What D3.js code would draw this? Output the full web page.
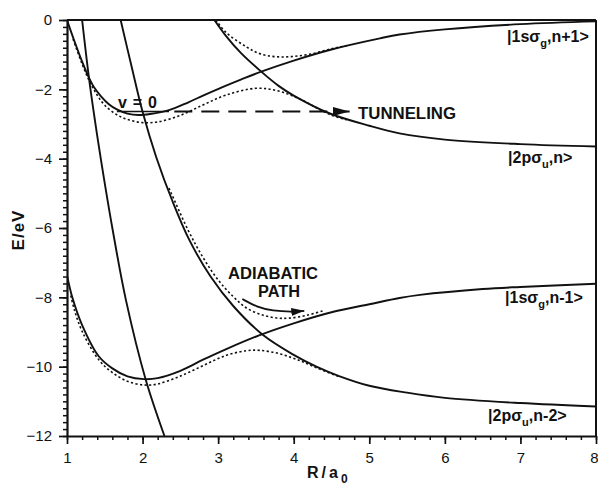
<!DOCTYPE html>
<html><head><meta charset="utf-8">
<script src="https://cdn.jsdelivr.net/npm/d3@7"></script>
<style>
body{margin:0;background:#fff}
svg{display:block}
text{font-family:"Liberation Sans",Arial,sans-serif;fill:#111}
</style>
</head><body>
<svg id="c" width="598" height="485"></svg>
<script>
// ---- data (R in a0, E in eV) ----
const xTicks = [1, 2, 3, 4, 5, 6, 7, 8];
const yTicks = [0, -2, -4, -6, -8, -10, -12];

// |1sσg, n+1>  (diabatic, solid)
const sgUpper = [[1.0,0.0],[1.1,-0.62],[1.2,-1.2],[1.29,-1.66],[1.36,-1.95],[1.45,-2.2],[1.55,-2.42],[1.66,-2.58],[1.8,-2.7],[1.95,-2.74],[2.1,-2.71],[2.35,-2.6],[2.6,-2.38],[2.8,-2.18],[3.02,-1.97],[3.3,-1.72],[3.57,-1.49],[4.0,-1.17],[4.5,-0.85],[5.14,-0.53],[5.4,-0.42],[6.0,-0.27],[7.0,-0.12],[8.0,-0.04]];
// |2pσu, n>
const suUpper = [[2.95,0.0],[3.1,-0.45],[3.3,-0.95],[3.57,-1.49],[3.8,-1.9],[4.0,-2.18],[4.47,-2.69],[5.0,-3.05],[5.4,-3.27],[6.0,-3.45],[7.0,-3.58],[8.0,-3.65]];
// |1sσg, n-1>
const sgLower = [[1.0,-7.36],[1.07,-8.0],[1.2,-8.8],[1.42,-9.7],[1.6,-10.05],[1.8,-10.28],[2.02,-10.36],[2.2,-10.33],[2.5,-10.12],[2.8,-9.8],[3.1,-9.5],[3.55,-9.09],[4.0,-8.75],[4.5,-8.43],[5.0,-8.2],[5.4,-8.02],[5.67,-7.93],[6.5,-7.76],[7.0,-7.7],[8.0,-7.61]];
// |2pσu, n-2>
const suLower = [[1.71,0.0],[1.85,-1.3],[2.0,-2.65],[2.18,-3.95],[2.4,-5.25],[2.62,-6.35],[2.9,-7.4],[3.2,-8.25],[3.59,-9.08],[4.0,-9.66],[4.3,-10.0],[4.6,-10.27],[5.0,-10.55],[5.5,-10.75],[6.0,-10.9],[7.0,-11.05],[8.0,-11.15]];
// steep repulsive curve (unlabelled)
const steep = [[1.2,0.0],[1.29,-1.66],[1.37,-2.9],[1.45,-4.04],[1.6,-6.0],[1.78,-8.08],[2.04,-10.36],[2.29,-12.0]];

// adiabatic curves (dotted)
const adUpperLow = [[1.08,-0.55],[1.2,-1.27],[1.3,-1.78],[1.4,-2.17],[1.5,-2.46],[1.65,-2.72],[1.8,-2.87],[2.0,-2.96],[2.2,-2.94],[2.49,-2.76],[2.8,-2.45],[3.1,-2.17],[3.5,-1.97],[3.8,-2.05],[4.1,-2.3],[4.47,-2.72],[4.7,-2.88]];
const adUpperHigh = [[2.97,0.0],[3.1,-0.35],[3.37,-0.77],[3.55,-0.97],[3.77,-1.06],[4.0,-1.05],[4.25,-0.97],[4.5,-0.83],[4.7,-0.74]];
const adLowerLow = [[1.05,-7.95],[1.1,-8.38],[1.2,-8.98],[1.42,-9.8],[1.6,-10.17],[1.8,-10.42],[2.02,-10.53],[2.2,-10.5],[2.49,-10.28],[2.8,-9.97],[3.1,-9.68],[3.37,-9.54],[3.55,-9.53],[3.8,-9.62],[4.05,-9.8],[4.3,-10.03],[4.6,-10.29]];
const adLowerHigh = [[2.35,-4.85],[2.6,-6.05],[2.8,-6.85],[3.0,-7.5],[3.2,-7.98],[3.37,-8.3],[3.6,-8.52],[3.8,-8.6],[3.94,-8.6],[4.17,-8.52],[4.4,-8.38]];

// v=0 level and tunnelling arrow
const vLevel = -2.64;
const vZeroR = [1.66, 2.35];
const tunnelR = [2.42, 4.74];
// adiabatic path arrow
const pathArrow = [[3.32,-8.05],[3.51,-8.28],[3.72,-8.39],[3.98,-8.42],[4.14,-8.39]];

// ---- layout ----
const svg = d3.select("#c");
const x = d3.scaleLinear().domain([1, 8]).range([67, 596]);
const y = d3.scaleLinear().domain([0, -12]).range([20, 436]);

const defs = svg.append("defs");
defs.append("clipPath").attr("id","clip")
  .append("rect").attr("x",67).attr("y",20).attr("width",529).attr("height",416);
defs.append("marker").attr("id","ah").attr("markerUnits","userSpaceOnUse")
  .attr("markerWidth",18).attr("markerHeight",10).attr("refX",17).attr("refY",4.5)
  .attr("orient","auto").append("path").attr("d","M0,0 L17,4.5 L0,9 Z").attr("fill","#111");
defs.append("marker").attr("id","ah2").attr("markerUnits","userSpaceOnUse")
  .attr("markerWidth",16).attr("markerHeight",10).attr("refX",13).attr("refY",4)
  .attr("orient","auto").append("path").attr("d","M0,0 L13,4 L0,8 Z").attr("fill","#111");

const line = d3.line().x(d => x(d[0])).y(d => y(d[1])).curve(d3.curveCatmullRom.alpha(0.5));
const g = svg.append("g").attr("clip-path","url(#clip)");

[sgUpper, suUpper, sgLower, suLower, steep].forEach(d =>
  g.append("path").attr("d", line(d)).attr("fill","none").attr("stroke","#111").attr("stroke-width",1.9));
[adUpperLow, adUpperHigh, adLowerLow, adLowerHigh].forEach(d =>
  g.append("path").attr("d", line(d)).attr("fill","none").attr("stroke","#111")
   .attr("stroke-width",1.6).attr("stroke-dasharray","2.2,2.4"));

// v=0 level
g.append("line").attr("x1",x(vZeroR[0])).attr("x2",x(vZeroR[1])).attr("y1",y(vLevel)).attr("y2",y(vLevel))
 .attr("stroke","#111").attr("stroke-width",1.6);
// tunnelling dashed arrow
svg.append("line").attr("x1",x(tunnelR[0])).attr("x2",x(tunnelR[1])).attr("y1",y(vLevel)).attr("y2",y(vLevel))
 .attr("stroke","#111").attr("stroke-width",1.8).attr("stroke-dasharray","18,9").attr("marker-end","url(#ah)");
// adiabatic path arrow
svg.append("path").attr("d", d3.line().x(d=>x(d[0])).y(d=>y(d[1])).curve(d3.curveBasis)(pathArrow))
 .attr("fill","none").attr("stroke","#111").attr("stroke-width",1.8).attr("marker-end","url(#ah2)");

// frame
svg.append("line").attr("x1",67).attr("x2",596).attr("y1",20).attr("y2",20).attr("stroke","#111").attr("stroke-width",2);
svg.append("line").attr("x1",596).attr("x2",596).attr("y1",20).attr("y2",436).attr("stroke","#111").attr("stroke-width",2);

// axes: minor ticks
svg.append("g").attr("transform","translate(67,0)")
  .call(d3.axisLeft(y).tickValues(d3.range(0, 61).map(i => -i * 0.2)).tickSize(4).tickFormat(""))
  .call(a => a.selectAll("line").attr("stroke","#111").attr("stroke-width",1.5))
  .call(a => a.select(".domain").remove());
svg.append("g").attr("transform","translate(0,436)")
  .call(d3.axisBottom(x).tickValues(d3.range(0, 36).map(i => 1 + i * 0.2)).tickSize(4).tickFormat(""))
  .call(a => a.selectAll("line").attr("stroke","#111").attr("stroke-width",1.5))
  .call(a => a.select(".domain").remove());
// major
const ya = svg.append("g").attr("transform","translate(67,0)")
  .call(d3.axisLeft(y).tickValues(yTicks).tickSize(8).tickPadding(7).tickSizeOuter(0)
        .tickFormat(d => d === 0 ? "0" : "\u2212" + Math.abs(d)));
const xa = svg.append("g").attr("transform","translate(0,436)")
  .call(d3.axisBottom(x).tickValues(xTicks).tickSize(8).tickPadding(8).tickSizeOuter(0).tickFormat(d3.format("d")));
[ya, xa].forEach(a => {
  a.select(".domain").attr("stroke","#111").attr("stroke-width",2.2);
  a.selectAll("line").attr("stroke","#111").attr("stroke-width",1.7);
  a.selectAll("text").attr("font-size",15).attr("font-family","Liberation Sans, Arial, sans-serif").attr("fill","#111");
});
// keep the last x label inside the window
xa.selectAll(".tick").filter(d => d === 8).select("text").attr("text-anchor","end").attr("dx",2);

// axis titles
svg.append("text").attr("transform","translate(24,230) rotate(-90)").attr("text-anchor","middle")
  .attr("font-size",17).attr("font-weight","bold").attr("letter-spacing",1).text("E/eV");
const rt = svg.append("text").attr("x",307).attr("y",478).attr("font-size",16).attr("font-weight","bold");
rt.append("tspan").attr("letter-spacing",3).text("R/a");
rt.append("tspan").attr("font-size",12).attr("dy",5).text("0");

// annotations
svg.append("text").attr("x",118).attr("y",108).attr("font-size",16).attr("font-weight","bold")
  .attr("textLength",39).attr("lengthAdjust","spacing").text("v=0");
svg.append("text").attr("x",358).attr("y",119).attr("font-size",16).attr("font-weight","bold")
  .attr("textLength",98).attr("lengthAdjust","spacingAndGlyphs").text("TUNNELING");
svg.append("text").attr("x",228).attr("y",279).attr("font-size",16).attr("font-weight","bold")
  .attr("textLength",90).attr("lengthAdjust","spacingAndGlyphs").text("ADIABATIC");
svg.append("text").attr("x",258).attr("y",297).attr("font-size",16).attr("font-weight","bold")
  .attr("textLength",42).attr("lengthAdjust","spacingAndGlyphs").text("PATH");

// state labels
function stateLabel(px, py, pre, sub, post) {
  const t = svg.append("text").attr("x", px).attr("y", py).attr("font-size", 16).attr("font-weight","bold");
  t.append("tspan").text(pre);
  t.append("tspan").attr("font-size", 11).attr("dy", 5).text(sub);
  t.append("tspan").attr("dy", -5).text(post);
}
stateLabel(507, 42, "|1s\u03c3", "g", ",n+1>");
stateLabel(508, 163, "|2p\u03c3", "u", ",n>");
stateLabel(505, 303, "|1s\u03c3", "g", ",n-1>");
stateLabel(488, 421, "|2p\u03c3", "u", ",n-2>");
</script>
</body></html>
